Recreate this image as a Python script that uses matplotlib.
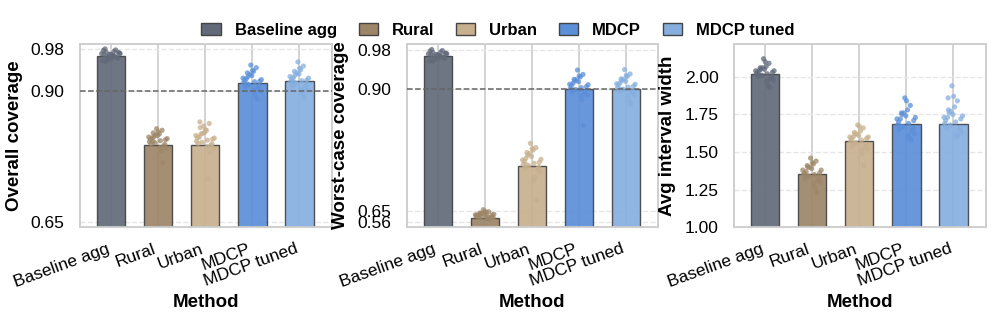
import numpy as np
import matplotlib
matplotlib.use("Agg")
import matplotlib.pyplot as plt
from matplotlib.patches import Patch

plt.rcParams["font.family"] = ["Liberation Sans", "DejaVu Sans"]

METHODS = ["Baseline agg", "Rural", "Urban", "MDCP", "MDCP tuned"]
COLORS = ["#626a79", "#9d8668", "#c7b08e", "#5b8fd8", "#86afe0"]

# bar heights (means)
OVERALL = [0.967, 0.797, 0.797, 0.915, 0.919]
WORST = [0.967, 0.596, 0.743, 0.900, 0.900]
WIDTH = [2.02, 1.354, 1.573, 1.686, 1.686]

# per-run values (jittered points)
OVERALL_RUNS = [
    [0.972, 0.968, 0.975, 0.963, 0.970, 0.978, 0.966, 0.960, 0.973, 0.969, 0.981, 0.965,
     0.971, 0.958, 0.976, 0.967, 0.974, 0.962, 0.970, 0.979, 0.964, 0.972, 0.968, 0.957],
    [0.812, 0.805, 0.820, 0.798, 0.815, 0.808, 0.825, 0.801, 0.790, 0.818, 0.810, 0.795,
     0.828, 0.803, 0.785, 0.813, 0.807, 0.822, 0.799, 0.762, 0.816, 0.809, 0.792, 0.804],
    [0.815, 0.806, 0.830, 0.799, 0.821, 0.811, 0.838, 0.802, 0.790, 0.825, 0.812, 0.796,
     0.833, 0.804, 0.732, 0.818, 0.808, 0.826, 0.800, 0.782, 0.819, 0.810, 0.793, 0.841],
    [0.925, 0.918, 0.935, 0.910, 0.930, 0.921, 0.945, 0.912, 0.900, 0.938, 0.924, 0.905,
     0.950, 0.916, 0.893, 0.928, 0.919, 0.940, 0.908, 0.885, 0.932, 0.922, 0.902, 0.914],
    [0.928, 0.920, 0.938, 0.912, 0.933, 0.923, 0.948, 0.915, 0.902, 0.941, 0.926, 0.907,
     0.956, 0.918, 0.895, 0.931, 0.921, 0.944, 0.910, 0.887, 0.935, 0.925, 0.904, 0.917],
]
WORST_RUNS = [
    [0.972, 0.968, 0.975, 0.963, 0.970, 0.978, 0.966, 0.960, 0.973, 0.969, 0.981, 0.965,
     0.971, 0.958, 0.976, 0.967, 0.974, 0.962, 0.970, 0.979, 0.964, 0.972, 0.968, 0.957],
    [0.620, 0.610, 0.635, 0.600, 0.628, 0.615, 0.645, 0.605, 0.595, 0.640, 0.622, 0.598,
     0.653, 0.612, 0.588, 0.630, 0.618, 0.648, 0.603, 0.585, 0.633, 0.625, 0.600, 0.608],
    [0.755, 0.748, 0.770, 0.740, 0.762, 0.752, 0.780, 0.743, 0.730, 0.775, 0.758, 0.735,
     0.789, 0.746, 0.720, 0.765, 0.750, 0.778, 0.738, 0.672, 0.768, 0.756, 0.712, 0.745],
    [0.910, 0.903, 0.920, 0.896, 0.915, 0.907, 0.930, 0.899, 0.888, 0.925, 0.912, 0.892,
     0.939, 0.901, 0.878, 0.917, 0.905, 0.927, 0.894, 0.825, 0.919, 0.909, 0.885, 0.898],
    [0.911, 0.904, 0.921, 0.897, 0.916, 0.908, 0.931, 0.900, 0.889, 0.926, 0.913, 0.893,
     0.940, 0.902, 0.875, 0.918, 0.906, 0.928, 0.895, 0.870, 0.920, 0.910, 0.886, 0.899],
]
WIDTH_RUNS = [
    [2.04, 2.02, 2.06, 2.00, 2.05, 2.03, 2.09, 2.01, 1.98, 2.07, 2.04, 1.99,
     2.12, 2.02, 1.94, 2.05, 2.03, 2.10, 2.00, 1.93, 2.06, 2.04, 1.97, 2.01],
    [1.38, 1.35, 1.41, 1.33, 1.39, 1.36, 1.44, 1.34, 1.30, 1.42, 1.37, 1.31,
     1.46, 1.35, 1.26, 1.40, 1.36, 1.43, 1.32, 1.23, 1.40, 1.38, 1.29, 1.34],
    [1.60, 1.58, 1.63, 1.55, 1.61, 1.59, 1.66, 1.56, 1.52, 1.64, 1.60, 1.53,
     1.68, 1.57, 1.49, 1.62, 1.59, 1.67, 1.54, 1.41, 1.62, 1.60, 1.51, 1.56],
    [1.72, 1.69, 1.76, 1.66, 1.74, 1.70, 1.81, 1.67, 1.62, 1.78, 1.72, 1.64,
     1.86, 1.68, 1.59, 1.75, 1.71, 1.84, 1.65, 1.58, 1.76, 1.73, 1.61, 1.67],
    [1.73, 1.70, 1.78, 1.66, 1.75, 1.71, 1.84, 1.68, 1.63, 1.80, 1.73, 1.65,
     1.94, 1.69, 1.60, 1.76, 1.72, 1.87, 1.66, 1.61, 1.77, 1.74, 1.62, 1.86],
]

YLABELS = ["Overall coverage", "Worst-case coverage", "Avg interval width"]
YTICKS = [[0.65, 0.90, 0.98], [0.56, 0.65, 0.90, 0.98], [1.00, 1.25, 1.50, 1.75, 2.00]]
YLIMS = [(0.639, 0.991), (0.518, 0.993), (1.00, 2.22)]
TARGET = 0.90

# worst-case panel: axis compressed below 0.65
BREAK, SQUEEZE = 0.65, 0.25


def fwd(y):
    y = np.asarray(y, dtype=float)
    return np.where(y < BREAK, BREAK - (BREAK - y) * SQUEEZE, y)


def inv(y):
    y = np.asarray(y, dtype=float)
    return np.where(y < BREAK, BREAK - (BREAK - y) / SQUEEZE, y)


fig = plt.figure(figsize=(9.96, 3.16), dpi=100)
lefts = [80 / 996, 406.7 / 996, 734 / 996]
w = 251.5 / 996
bottom, top = 1 - 227.3 / 316, 1 - 43.7 / 316
axes = [fig.add_axes([l, bottom, w, top - bottom]) for l in lefts]

x = np.arange(len(METHODS))
for k, (ax, means, runs) in enumerate(zip(axes, [OVERALL, WORST, WIDTH],
                                          [OVERALL_RUNS, WORST_RUNS, WIDTH_RUNS])):
    if k == 1:
        ax.set_yscale("function", functions=(fwd, inv))
    ax.set_axisbelow(True)
    ax.grid(axis="x", color="#d0d0d0", lw=1.3, zorder=0)
    ax.grid(axis="y", color="#e6e6e6", lw=1.0, ls="--", zorder=0)
    ax.bar(x, means, width=0.6, color=COLORS, alpha=0.92, edgecolor="#444444",
           linewidth=1.0, zorder=2)
    for i, vals in enumerate(runs):
        n = len(vals)
        jit = ((np.arange(n) * 0.618034) % 1 - 0.5) * 0.4
        ax.scatter(x[i] + jit, vals, s=14, color=COLORS[i], alpha=0.75,
                   edgecolors="none", zorder=3)
    if k < 2:
        ax.axhline(TARGET, color="#666666", ls="--", lw=1.1, zorder=4)
    ax.set_xlim(-0.66, 4.68)
    ax.set_ylim(*YLIMS[k])
    ax.set_yticks(YTICKS[k])
    ax.set_yticklabels([f"{t:.2f}" for t in YTICKS[k]], fontsize=12.5)
    ax.set_xticks(x)
    ax.set_xticklabels(METHODS, rotation=20, ha="right", fontsize=12.5)
    ax.tick_params(axis="y", length=0, pad=11)
    ax.tick_params(axis="x", length=0, pad=10)
    ax.set_ylabel(YLABELS[k], fontsize=13.5, fontweight="bold", labelpad=6)
    ax.set_xlabel("Method", fontsize=13.5, fontweight="bold", labelpad=3)
    for sp in ax.spines.values():
        sp.set_color("#cccccc")
        sp.set_linewidth(1.3)

handles = [Patch(facecolor=c, edgecolor="#444444", linewidth=1.0) for c in COLORS]
fig.legend(handles, METHODS, loc="upper center", bbox_to_anchor=(0.5, 0.975), ncol=5,
           frameon=False, prop={"weight": "bold", "size": 12}, handlelength=1.15,
           handleheight=0.7, handletextpad=0.85, columnspacing=1.3)

fig.savefig("out.png", dpi=100)
